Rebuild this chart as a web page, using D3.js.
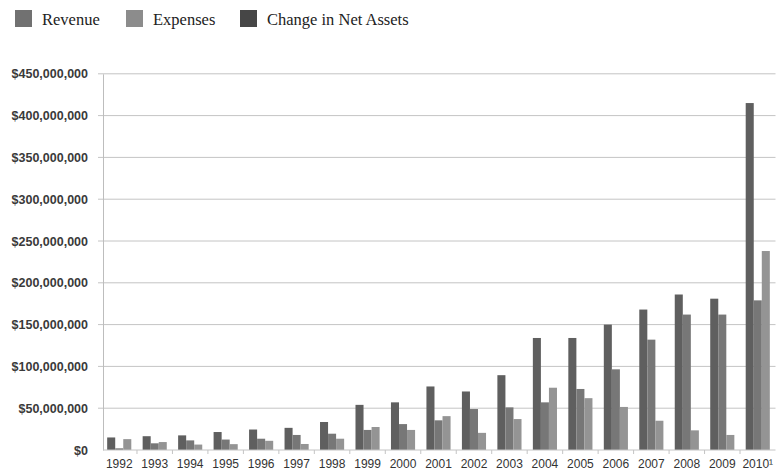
<!DOCTYPE html>
<html>
<head>
<meta charset="utf-8">
<script src="https://cdn.jsdelivr.net/npm/d3@7"></script>
<style>
  html, body { margin: 0; padding: 0; background: #fff; }
  svg { display: block; }
</style>
</head>
<body>
<svg id="chart" width="784" height="473"></svg>
<script>
// Fiscal years shown on the x axis
const years = ["1992","1993","1994","1995","1996","1997","1998","1999","2000","2001",
               "2002","2003","2004","2005","2006","2007","2008","2009","2010"];
const yearLabels = ["1992","1993","1994","1995","1996","1997","1998","1999","2000","2001",
                    "2002","2003","2004","2005","2006","2007","2008","2009","2010¹"];

// Annual amounts in US dollars (millions)
const revenue   = [15, 16.5, 17.5, 21.5, 24.5, 26.5, 33.5, 54, 57, 76, 70, 89.5, 134, 134, 150, 168, 186, 181, 415];
const expenses  = [2, 8, 11.5, 12.5, 13.5, 18, 19.5, 24, 31, 35.5, 49, 51, 57, 73, 96.5, 132, 162, 162, 179];
const netChange = [13, 9.5, 6.5, 7, 11, 7.2, 13.5, 27.5, 24, 40.5, 20.5, 37, 74.5, 62, 51.5, 35, 23.5, 18, 238];

const seriesNames = ["Revenue", "Expenses", "Change in Net Assets"];
const barColors = ["#5f5f5f", "#777777", "#949494"];
const legendColors = ["#717171", "#8c8c8c", "#464646"];

const yTicks = [0, 50, 100, 150, 200, 250, 300, 350, 400, 450];

const svg = d3.select("#chart");

const plotLeft = 103, plotRight = 775.5, plotTop = 73.8, plotBottom = 450;

const x0 = d3.scaleBand().domain(years).range([101.5, plotRight])
  .paddingInner(0.32).paddingOuter(0.16);
const x1 = d3.scaleBand().domain(seriesNames).range([0, x0.bandwidth()]);
const y = d3.scaleLinear().domain([0, 450]).range([plotBottom, plotTop]);

const fmt = v => "$" + d3.format(",")(v * 1e6);

// Horizontal gridlines
svg.append("g").selectAll("line").data(yTicks.slice(1)).join("line")
  .attr("x1", plotLeft - 5).attr("x2", plotRight)
  .attr("y1", d => y(d)).attr("y2", d => y(d))
  .attr("stroke", "#c4c4c4").attr("stroke-width", 1);

// Y axis labels
const yAxis = d3.axisLeft(y).tickValues(yTicks).tickFormat(fmt).tickSize(0).tickPadding(15);
const gy = svg.append("g").attr("transform", `translate(${plotLeft},0)`).call(yAxis);
gy.select(".domain").attr("stroke", "#bdbdbd");
gy.selectAll("text")
  .attr("font-family", "'Liberation Sans', Arial, sans-serif")
  .attr("font-size", 12.5).attr("font-weight", "bold").attr("fill", "#3a3a3a");

// Bars
const data = years.map((yr, i) => ({
  year: yr,
  values: [revenue[i], expenses[i], netChange[i]]
}));

const groups = svg.append("g").selectAll("g").data(data).join("g")
  .attr("transform", d => `translate(${x0(d.year)},0)`);
groups.selectAll("rect").data(d => d.values.map((v, k) => ({ key: seriesNames[k], v, k })))
  .join("rect")
  .attr("x", d => x1(d.key))
  .attr("width", x1.bandwidth())
  .attr("y", d => y(d.v))
  .attr("height", d => y(0) - y(d.v))
  .attr("fill", d => barColors[d.k]);

// Baseline and category separators
svg.append("line")
  .attr("x1", plotLeft).attr("x2", plotRight)
  .attr("y1", plotBottom).attr("y2", plotBottom)
  .attr("stroke", "#c4c4c4");
const step = x0.step();
svg.append("g").selectAll("line").data(years.slice(1)).join("line")
  .attr("x1", d => x0(d) - step * 0.16).attr("x2", d => x0(d) - step * 0.16)
  .attr("y1", plotBottom).attr("y2", plotBottom + 4)
  .attr("stroke", "#c4c4c4");

// X axis labels
const xAxis = d3.axisBottom(x0).tickSize(0).tickPadding(9)
  .tickFormat((d, i) => yearLabels[i]);
const gx = svg.append("g").attr("transform", `translate(0,${plotBottom})`).call(xAxis);
gx.select(".domain").remove();
gx.selectAll("text")
  .attr("font-family", "'Liberation Sans', Arial, sans-serif")
  .attr("font-size", 12).attr("fill", "#333");

// Legend
const legendX = [15, 126, 240];
const legend = svg.append("g").selectAll("g").data(seriesNames).join("g")
  .attr("transform", (d, i) => `translate(${legendX[i]},10)`);
legend.append("rect").attr("width", 17).attr("height", 17)
  .attr("fill", (d, i) => legendColors[i]);
legend.append("text").attr("x", 27).attr("y", 15)
  .attr("font-family", "'Liberation Serif', 'DejaVu Serif', serif")
  .attr("font-size", 16.5).attr("fill", "#222")
  .text(d => d);
</script>
</body>
</html>
